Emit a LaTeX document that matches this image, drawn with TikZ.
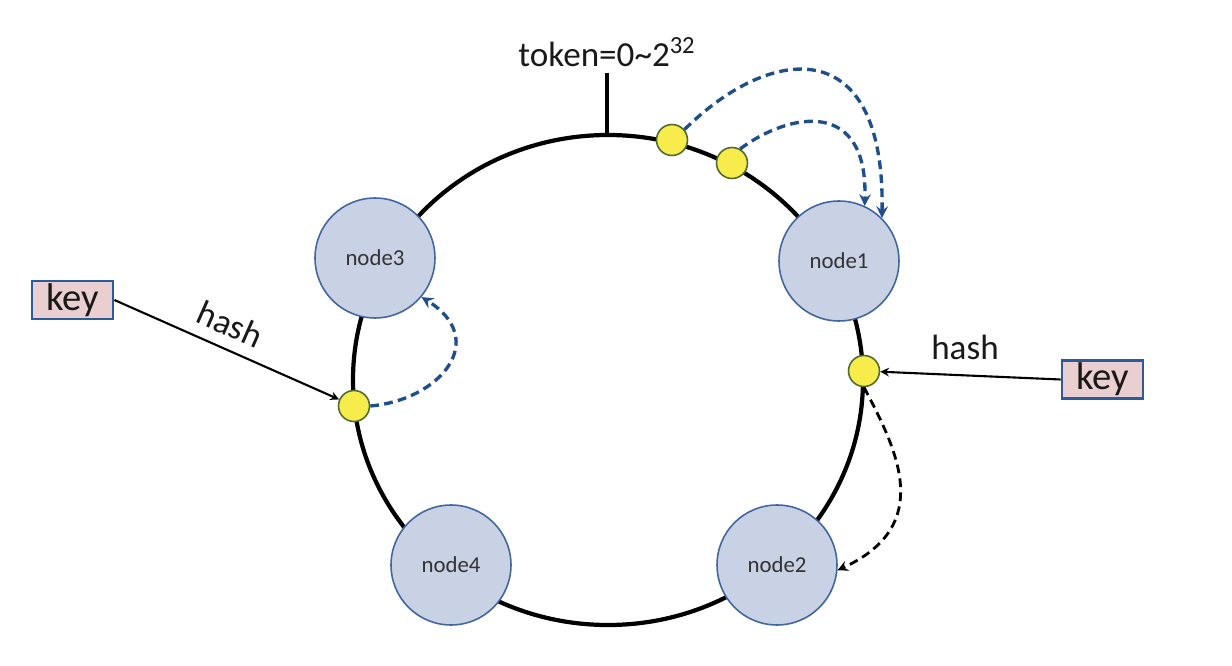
\documentclass[tikz,border=0pt]{standalone}
\usepackage{fontspec}
\setmainfont{Carlito}
\usepackage{tikz}
\usetikzlibrary{positioning}
\usepackage{xcolor}
\definecolor{serverfill}{HTML}{C9D1E5}
\definecolor{serverline}{HTML}{41679F}
\definecolor{hashfill}{HTML}{F7EC4B}
\definecolor{hashline}{HTML}{4E6B2E}
\definecolor{keyfill}{HTML}{E9CFCF}
\definecolor{keyline}{HTML}{2D5A9A}
\definecolor{lookup}{HTML}{1F4E8C}

\begin{document}
\begin{tikzpicture}[%
    x=0.02cm,
    y=-0.02cm,
    >=stealth,
    font=\fontsize{20}{24}\selectfont,
    text=black!90,
    ring/.style={%
      line width=2.4pt,
      draw=black
    },
    server/.style={%
      circle,
      minimum size=2.4cm,
      inner sep=0pt,
      fill=serverfill,
      draw=serverline,
      line width=0.9pt,
      text=black!80,
      font=\fontsize{13}{15}\selectfont
    },
    hashpt/.style={%
      circle,
      minimum size=0.62cm,
      inner sep=0pt,
      fill=hashfill,
      draw=hashline,
      line width=0.9pt
    },
    keybox/.style={%
      rectangle,
      minimum width=1.62cm,
      minimum height=0.76cm,
      inner sep=0pt,
      fill=keyfill,
      draw=keyline,
      line width=1.6pt,
      font=\fontsize{22}{24}\selectfont
    },
    hasharrow/.style={%
      ->,
      line width=1.2pt
    },
    walk/.style={%
      ->,
      dash pattern=on 5pt off 3pt,
      line width=1.9pt,
      draw=lookup
    }
  ]
    \fill[white] (0,0) rectangle (1232,666);
    \useasboundingbox (0,0) rectangle (1232,666);

    \draw[ring] (608,380) ellipse [x radius=255, y radius=245];
    \coordinate (top) at (607,136);
    \coordinate (tick) at (607,73);
    \draw[ring] (top) -- (tick);
    \node (token) [above=0pt of tick] {token=0\textasciitilde2\textsuperscript{32}};

    \node[server] (n1) at (839,261) {node1};
    \node[server] (n2) at (777,565) {node2};
    \node[server] (n3) at (375,258) {node3};
    \node[server] (n4) at (451,565) {node4};

    \node[hashpt] (d1) at (672,140) {};
    \node[hashpt] (d2) at (732,163) {};
    \node[hashpt] (d3) at (864,371) {};
    \node[hashpt] (d4) at (354,406) {};

    \node[keybox] (k1) at (72.5,300) {key};
    \node[keybox] (k2) at (1102.5,379.5) {key};

    \path (k1.east) edge [hasharrow] node [above=3pt, sloped, pos=0.47] {hash} (d4)
          (k2.west) edge [hasharrow] node [above=5pt, pos=0.53] {hash} (d3)
          ;

    \draw[walk] (d1.40) .. controls (770,45) and (885,30) .. (n1.45);
    \draw[walk] (d2.60) .. controls (790,112) and (868,98) .. (n1.65);
    \draw[walk] (d4.east) .. controls (440,400) and (490,340) .. (n3.-40);
    \draw[walk, draw=black, line width=1.6pt] (d3.south) .. controls (897,450) and (935,525) .. (n2.-5);
  \end{tikzpicture}
\end{document}
